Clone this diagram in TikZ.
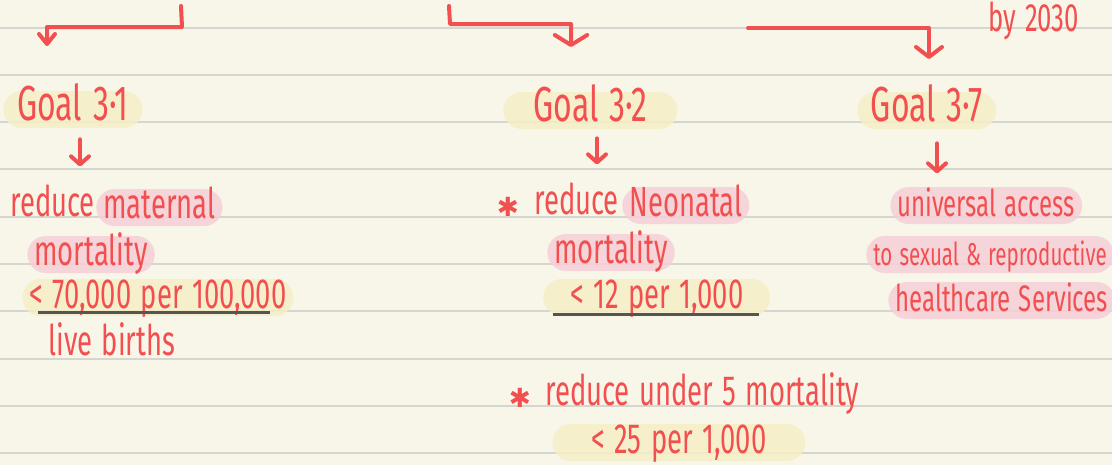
\documentclass[tikz,border=0pt]{standalone}
\usepackage{fontspec}
\setmainfont{Fira Sans}[FakeStretch=0.65,WordSpace=1.3]
\newfontfamily\symfont{DejaVu Sans}
\usetikzlibrary{arrows.meta,calc}
\definecolor{pen}{RGB}{242,80,80}
\definecolor{paper}{RGB}{248,246,232}
\definecolor{rulegray}{RGB}{214,214,208}
\definecolor{hlyellow}{RGB}{246,238,198}
\definecolor{hlpink}{RGB}{245,208,216}
\definecolor{inkgray}{RGB}{85,85,85}

\tikzset{
  hand/.style={font=\fontsize{24}{28}\selectfont, text=pen, inner sep=0pt, anchor=base west},
  goalfont/.style={font=\fontsize{28}{30}\selectfont},
  smallhand/.style={font=\fontsize{21}{24}\selectfont},
  pill/.style={hand, rounded corners=3.7mm, inner xsep=1.4mm, inner ysep=0pt,
    text height=5.8mm, text depth=1.6mm},
  pillY/.style={pill, fill=hlyellow, fill opacity=0.85, text opacity=1},
  pillP/.style={pill, fill=hlpink, fill opacity=0.85, text opacity=1},
  star/.style={text=pen, inner sep=0pt, font=\symfont\fontsize{15}{15}\selectfont},
  penline/.style={draw=pen, line width=0.8mm, line cap=round, line join=round},
  bigtip/.style={penline, -{Straight Barb[round,length=2mm,width=#1]}},
  bigtip/.default=5mm,
  smalltip/.style={penline, -{Straight Barb[round,length=1.6mm,width=3.6mm]}},
  uline/.style={draw=inkgray, line width=0.6mm},
}

\begin{document}
\begin{tikzpicture}[x=0.2mm, y=-0.2mm]
        % -- paper with ruled lines --
        \fill[paper] (0,0) rectangle (1112,465);
        \useasboundingbox (0,0) rectangle (1112,465);
        \clip (0,0) rectangle (1112,465);
        \foreach \k in {0,...,9}
            \draw[rulegray, line width=0.4mm] (0,{27.5+47.3*\k}) -- (1112,{27.5+47.3*\k});

        % -- heading note --
        \node[hand, font=\fontsize{22.5}{26}\selectfont] (yr) at (988,31) {by 2030};

        % -- branches from above --
        \coordinate (s1) at (181,6);
        \coordinate (e1) at (47,46);
        \draw[bigtip=3.2mm] (s1) -- ++(1,21) -| (e1);
        \coordinate (s2) at (449,6);
        \coordinate (e2) at (571,47);
        \draw[bigtip=6.5mm] (s2) -- ++(1,18) -| (e2);
        \coordinate (s3) at (748,28);
        \coordinate (e3) at (929,59);
        \draw[bigtip=5.2mm] (s3) -| (e3);

        % -- goals --
        \node[pillY, goalfont, minimum width=27.8mm] (g31) at (3,120) {Goal 3·1};
        \node[pillY, goalfont, minimum width=34.8mm] (g32) at (503,121) {Goal 3·2};
        \node[pillY, goalfont, minimum width=27.8mm] (g37) at (857,121) {Goal 3·7};

        \draw[smalltip] ($(g31.south west)+(77,11)$) -- ++(0,27);
        \draw[smalltip] ($(g32.south west)+(94,9)$) -- ++(0,26);
        \draw[smalltip] ($(g37.south west)+(80,14)$) -- ++(0,30);

        % -- goal 3.1 --
        \node[hand] (red1) at (10,216) {reduce};
        \node[pillP] (mat) at (96,218) {maternal};
        \node[pillP] (mort1) at (27,265) {mortality};
        \node[pillY] (lim1) at (22,308) {< 70,000 per 100,000};
        \draw[uline] ([shift={(16,4)}]lim1.base west) -- ([shift={(-24,4)}]lim1.base east);
        \node[hand] (lb) at (48,355) {live births};

        % -- goal 3.2 --
        \node[star] (st1) at (508,207) {✱};
        \node[hand] (red2) at (534,214) {reduce};
        \node[pillP] (neo) at (622,216) {Neonatal};
        \node[pillP] (mort2) at (547,263) {mortality};
        \node[pillY, minimum width=45.4mm] (lim2) at (543,308) {< 12 per 1,000};
        \draw[uline] ([shift={(10,6)}]lim2.base west) -- ([shift={(-12,6)}]lim2.base east);
        \node[star] (st2) at (520,398) {✱};
        \node[hand] (u5) at (545,405) {reduce under 5 mortality};
        \node[pillY, minimum width=50.6mm] (lim3) at (552,453) {< 25 per 1,000};

        % -- goal 3.7 --
        \node[pillP, smallhand] (ua) at (890,216) {universal access};
        \node[pillP, smallhand, font=\fontsize{18}{22}\selectfont] (sr) at (866,265) {to sexual \& reproductive};
        \node[pillP, smallhand] (hc) at (888,311) {healthcare Services};
\end{tikzpicture}
\end{document}
